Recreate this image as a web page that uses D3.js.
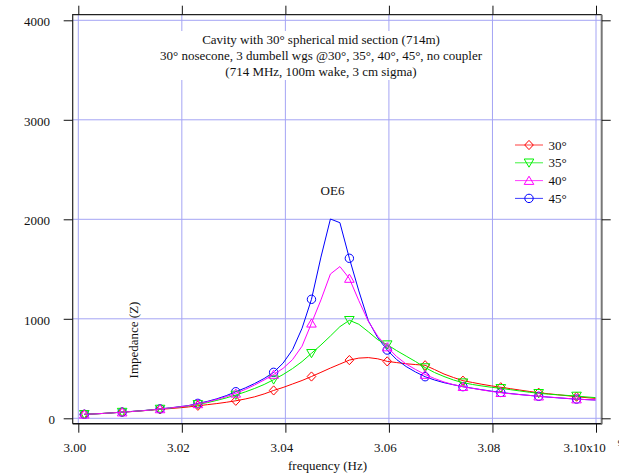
<!DOCTYPE html>
<html><head><meta charset="utf-8">
<script src="https://cdn.jsdelivr.net/npm/d3@7"></script>
<style>
html,body{margin:0;padding:0;background:#fff;}
text{font-family:"Liberation Serif","Times New Roman",serif;fill:#111;}
</style></head>
<body>
<svg id="chart" width="619" height="475"></svg>
<script>
// ---- data ----
const freq = [3.00116,3.00299,3.00482,3.00665,3.00847,3.01030,3.01213,3.01396,3.01579,3.01762,
3.01945,3.02127,3.02310,3.02493,3.02676,3.02859,3.03042,3.03224,3.03407,3.03590,
3.03773,3.03956,3.04139,3.04322,3.04504,3.04687,3.04870,3.05053,3.05236,3.05419,
3.05602,3.05784,3.05967,3.06150,3.06333,3.06516,3.06699,3.06881,3.07064,3.07247,
3.07430,3.07613,3.07796,3.07979,3.08161,3.08344,3.08527,3.08710,3.08893,3.09076,
3.09259,3.09441,3.09624,3.09807,3.09990];
const z30 = [40,44,49,55,62,68,75,82,90,97,105,114,126,137,148,161,176,194,216,245,280,310,345,380,420,462,505,545,585,605,610,598,572,560,548,540,533,490,445,410,378,360,342,326,312,298,284,270,257,247,237,227,217,208,200];
const z35 = [40,44,49,55,62,68,75,83,93,102,112,123,140,158,180,205,234,265,300,340,388,440,500,570,653,737,827,921,985,945,870,790,740,680,625,570,510,460,420,385,358,340,325,312,301,288,275,262,251,243,236,230,224,215,208];
const z40 = [40,44,49,55,62,68,75,83,94,103,114,126,145,165,190,218,251,290,335,385,440,502,590,725,955,1190,1450,1525,1405,1182,975,825,716,620,545,490,440,400,365,338,318,302,285,270,257,247,238,230,222,214,207,200,193,188,184];
const z45 = [40,44,49,55,62,69,76,84,95,104,116,128,150,170,196,228,267,305,350,400,462,555,690,905,1196,1620,2003,1966,1608,1280,980,810,686,590,520,465,418,385,358,337,318,302,287,273,260,249,239,230,221,213,206,199,193,188,184];
const seriesNames = ["30°","35°","40°","45°"];
const xTicks = [3.00,3.02,3.04,3.06,3.08,3.10];
const xTickLabels = ["3.00","3.02","3.04","3.06","3.08","3.10x10"];
const yTicks = [0,1000,2000,3000,4000];
const yTickLabels = ["0","1000","2000","3000","4000"];
const titleLines = ["Cavity with 30° spherical mid section (714m)",
  "30° nosecone, 3 dumbell wgs @30°, 35°, 40°, 45°, no coupler",
  "(714 MHz, 100m wake, 3 cm sigma)"];
const peakLabel = "OE6";

// ---- drawing ----
const colors = ["#ff0000","#00f000","#ff00ff","#0000ff"];
const shapes = ["diamond","down","up","circle"];
const svg = d3.select("#chart");
const frame = {l:72.7, t:14.7, r:601.7, b:423.7};
const x = d3.scaleLinear().domain([3.00,3.10]).range([78.3,596]);
const y = d3.scaleLinear().domain([0,4000]).range([418.3,20.3]);
const grid = "#a4a4f4";

// gridlines
svg.append("g").selectAll("line.gx").data(xTicks).join("line")
  .attr("x1",d=>x(d)).attr("x2",d=>x(d)).attr("y1",frame.t).attr("y2",frame.b)
  .attr("stroke",grid).attr("stroke-width",1);
svg.append("g").selectAll("line.gy").data(yTicks).join("line")
  .attr("y1",d=>y(d)).attr("y2",d=>y(d)).attr("x1",frame.l).attr("x2",frame.r)
  .attr("stroke",grid).attr("stroke-width",1);

// title with white box
svg.append("rect").attr("x",157).attr("y",31).attr("width",318).attr("height",49).attr("fill","#fff");
svg.append("g").selectAll("text").data(titleLines).join("text")
  .attr("x",321).attr("y",(d,i)=>43.5+i*16.2).attr("text-anchor","middle")
  .attr("font-size",13).text(d=>d);

// series
const all = [z30,z35,z40,z45];
const order = [0,3,1,2];
function markerPath(shape){
  if(shape==="diamond") return "M0,-4.6L4.3,0L0,4.6L-4.3,0Z";
  if(shape==="down") return "M-4.8,-3.8L4.8,-3.8L0,4.4Z";
  if(shape==="up") return "M0,-4.4L4.8,3.8L-4.8,3.8Z";
  return "M4.2,0A4.2,4.2 0 1,1 -4.2,0A4.2,4.2 0 1,1 4.2,0Z";
}
const line = d3.line().x(d=>x(d[0])).y(d=>y(d[1]));
order.forEach(s=>{
  const pts = freq.map((f,i)=>[f,all[s][i]]);
  const g = svg.append("g");
  g.append("path").datum(pts).attr("d",line).attr("fill","none")
    .attr("stroke",colors[s]).attr("stroke-width",1);
  g.selectAll("path.m").data(pts.filter((p,i)=>i%4===0)).join("path")
    .attr("class","m").attr("d",markerPath(shapes[s]))
    .attr("transform",d=>`translate(${x(d[0])},${y(d[1])})`)
    .attr("fill","none").attr("stroke",colors[s]).attr("stroke-width",1);
});

// frame
svg.append("path").attr("d",`M${frame.l},${frame.b}V${frame.t}H${frame.r}`)
  .attr("fill","none").attr("stroke","#222").attr("stroke-width",1.2);
svg.append("line").attr("x1",frame.l).attr("x2",frame.r+0.5).attr("y1",frame.b).attr("y2",frame.b)
  .attr("stroke","#111").attr("stroke-width",1.4);
svg.append("line").attr("x1",frame.r).attr("x2",frame.r).attr("y1",frame.t).attr("y2",frame.b)
  .attr("stroke","#777").attr("stroke-width",2);

// axes
const ax = svg.append("g").attr("transform",`translate(${frame.l},0)`)
  .call(d3.axisLeft(y).tickValues(yTicks).tickSize(9).tickPadding(13.7)
    .tickFormat((d,i)=>yTickLabels[i]));
ax.select(".domain").remove();
ax.selectAll("text").attr("font-size",13).attr("font-family","Liberation Serif").attr("fill","#111")
  .attr("dy","0.4em").attr("x",d=>d===0?-17.7:-22.7);
ax.selectAll("line").attr("stroke","#111");

const axr = svg.append("g").attr("transform",`translate(${frame.r},0)`)
  .call(d3.axisRight(y).tickValues(yTicks).tickSize(9).tickFormat(""));
axr.select(".domain").remove(); axr.selectAll("line").attr("stroke","#111");
const axt = svg.append("g").attr("transform",`translate(0,${frame.t})`)
  .call(d3.axisTop(x).tickValues(xTicks).tickSize(9).tickFormat(""));
axt.select(".domain").remove(); axt.selectAll("line").attr("stroke","#111");
const axb = svg.append("g").attr("transform",`translate(0,${frame.b})`)
  .call(d3.axisBottom(x).tickValues(xTicks).tickSize(9).tickPadding(10)
    .tickFormat((d,i)=>xTickLabels[i]));
axb.select(".domain").remove(); axb.selectAll("line").attr("stroke","#111");
axb.selectAll("text").attr("font-size",13).attr("font-family","Liberation Serif").attr("fill","#111")
  .attr("x",-4).attr("dy","0.71em");
const lastLab = axb.selectAll("text").filter((d,i)=>i===xTicks.length-1);
lastLab.attr("text-anchor","start").attr("x",-33);
lastLab.append("tspan").attr("font-size",9).attr("dx",12).attr("dy","-0.7em").text("9");

// axis titles
svg.append("text").attr("x",327.5).attr("y",470).attr("text-anchor","middle")
  .attr("font-size",13).text("frequency (Hz)");
svg.append("text").attr("transform","translate(138,340) rotate(-90)")
  .attr("text-anchor","middle").attr("font-size",13).text("Impedance (Z)");
svg.append("text").attr("x",332.5).attr("y",195).attr("text-anchor","middle")
  .attr("font-size",13).text(peakLabel);

// legend
const lg = svg.append("g");
seriesNames.forEach((n,i)=>{
  const yy = 145+i*17.8;
  lg.append("line").attr("x1",515).attr("x2",543).attr("y1",yy).attr("y2",yy)
    .attr("stroke",colors[i]).attr("stroke-width",1).attr("opacity",0.75);
  lg.append("path").attr("d",markerPath(shapes[i])).attr("transform",`translate(529,${yy})`)
    .attr("fill","none").attr("stroke",colors[i]).attr("stroke-width",1);
  lg.append("text").attr("x",548.5).attr("y",yy+4.5).attr("font-size",13).text(n);
});
</script>
</body></html>
